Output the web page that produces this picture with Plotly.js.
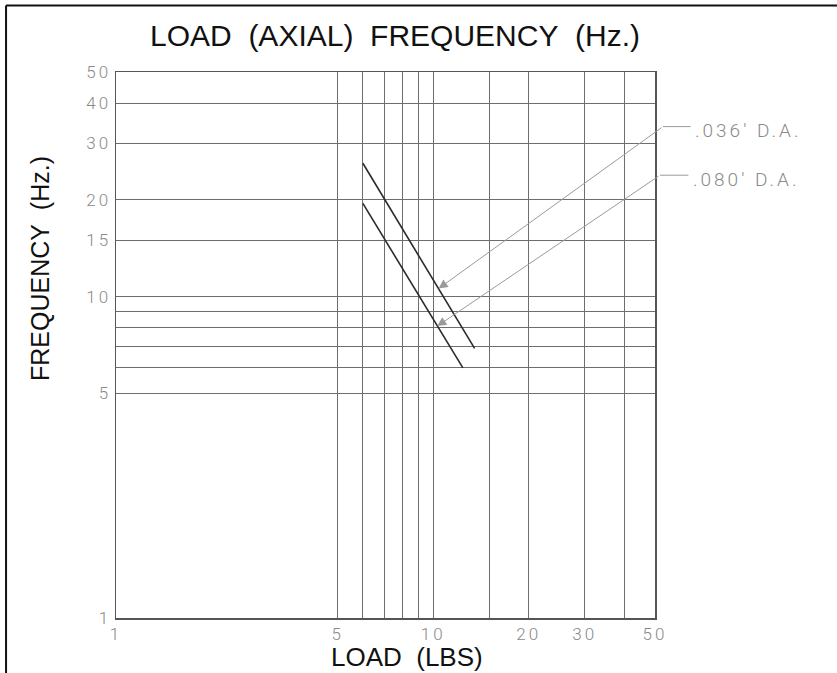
<!DOCTYPE html>
<html>
<head>
<meta charset="utf-8">
<script src="https://cdn.plot.ly/plotly-3.0.1.min.js"></script>
<style>
html,body{margin:0;padding:0;background:#fff;}
#chart{width:837px;height:673px;}
#chart .xtick text, #chart .ytick text {letter-spacing: 3px;}
#chart g.annotation[data-index="2"] text, #chart g.annotation[data-index="3"] text {letter-spacing: 3px;}
</style>
</head>
<body>
<div id="chart"></div>
<script>
// ---- data ----
var seriesNames = [".036\u2032 D.A.", ".080\u2032 D.A."];
var load036 = [6, 13.5];
var freq036 = [26, 6.9];
var load080 = [6, 12.4];
var freq080 = [19.5, 6];
// points where leader arrows touch each curve
var pointer036 = [10.4, 10.6];
var pointer080 = [10.3, 8.1];

var xTickVals = [1, 5, 6, 7, 8, 9, 10, 15, 20, 30, 40, 50];
var xTickText = ["1", "5", "", "", "", "", "10", "", "20", "30", "", "50"];
var yTickVals = [1, 5, 6, 7, 8, 9, 10, 15, 20, 30, 40, 50];
var yTickText = ["1", "5", "", "", "", "", "10", "15", "20", "30", "40", "50"];
var xRange = [1, 50];
var yRange = [1, 50];

var L = Math.log10;
var thinFont = "Roboto, 'DejaVu Sans', sans-serif";
var tickFont = {family: thinFont, size: 17, color: "#8a8a8a", weight: 300};
var boldFamily = "'Liberation Sans', Arial, sans-serif";

var traces = [
  {x: load036, y: freq036, name: seriesNames[0], mode: "lines", line: {color: "#2b2b2b", width: 1.6}, hoverinfo: "x+y+name"},
  {x: load080, y: freq080, name: seriesNames[1], mode: "lines", line: {color: "#2b2b2b", width: 1.6}, hoverinfo: "x+y+name"}
];

var xSpan = L(xRange[1]) - L(xRange[0]);
var ySpan = L(yRange[1]) - L(yRange[0]);
function pxToLogX(p) { return L(xRange[0]) + p * xSpan; }
function pyToLogY(p) { return L(yRange[0]) + p * ySpan; }

var leaderColor = "#9a9a9a";
var annotations = [
  // leader arrows (tail beyond the plot on the right)
  {x: L(pointer036[0]), y: L(pointer036[1]), xref: "x", yref: "y", axref: "x", ayref: "y",
   ax: pxToLogX(1.0148), ay: pyToLogY(0.900), text: "", showarrow: true,
   arrowhead: 2, arrowsize: 1.8, arrowwidth: 1, arrowcolor: leaderColor},
  {x: L(pointer080[0]), y: L(pointer080[1]), xref: "x", yref: "y", axref: "x", ayref: "y",
   ax: pxToLogX(1.0093), ay: pyToLogY(0.811), text: "", showarrow: true,
   arrowhead: 2, arrowsize: 1.8, arrowwidth: 1, arrowcolor: leaderColor},
  // labels
  {x: 1.098, y: 0.893, xref: "paper", yref: "paper", xanchor: "left", yanchor: "middle",
   text: seriesNames[0], showarrow: false, font: {family: thinFont, size: 19, color: "#8a8a8a", weight: 300}},
  {x: 1.094, y: 0.804, xref: "paper", yref: "paper", xanchor: "left", yanchor: "middle",
   text: seriesNames[1], showarrow: false, font: {family: thinFont, size: 19, color: "#8a8a8a", weight: 300}},
  // y-axis title
  {x: -0.142, y: 0.64, xref: "paper", yref: "paper", xanchor: "center", yanchor: "middle",
   text: "FREQUENCY\u00a0 (Hz.)", textangle: -90, showarrow: false,
   font: {family: boldFamily, size: 25, color: "#111"}},
  // x-axis title
  {x: 0.539, y: -0.071, xref: "paper", yref: "paper", xanchor: "center", yanchor: "middle",
   text: "LOAD\u00a0 (LBS)", showarrow: false,
   font: {family: boldFamily, size: 26, color: "#111"}}
];

var shapes = [
  // horizontal leader segments
  {type: "line", xref: "paper", yref: "paper", x0: 1.0148, x1: 1.066, y0: 0.900, y1: 0.900, line: {color: leaderColor, width: 1}},
  {type: "line", xref: "paper", yref: "paper", x0: 1.0093, x1: 1.062, y0: 0.811, y1: 0.811, line: {color: leaderColor, width: 1}},
  // drawing frame (left and top)
  {type: "line", xref: "paper", yref: "paper", x0: -0.204, x1: -0.204, y0: 1.122, y1: -0.12, line: {color: "#111", width: 2}},
  {type: "line", xref: "paper", yref: "paper", x0: -0.204, x1: 1.36, y0: 1.122, y1: 1.122, line: {color: "#111", width: 2}}
];

var layout = {
  width: 837, height: 673,
  margin: {l: 116, r: 182, t: 72, b: 55, pad: 0},
  paper_bgcolor: "#fff", plot_bgcolor: "#fff",
  showlegend: false,
  title: {text: "LOAD\u00a0 (AXIAL)\u00a0 FREQUENCY\u00a0 (Hz.)", font: {family: boldFamily, size: 30, color: "#111"},
          x: 0.472, xanchor: "center", y: 0.947, yanchor: "middle"},
  xaxis: {
    type: "log", range: [L(xRange[0]), L(xRange[1])],
    tickmode: "array", tickvals: xTickVals, ticktext: xTickText,
    showgrid: true, gridcolor: "#6e6e6e", gridwidth: 1,
    showline: true, mirror: true, linecolor: "#555", linewidth: 1.5,
    ticks: "", ticklen: 0, tickfont: tickFont, zeroline: false
  },
  yaxis: {
    type: "log", range: [L(yRange[0]), L(yRange[1])],
    tickmode: "array", tickvals: yTickVals, ticktext: yTickText,
    showgrid: true, gridcolor: "#6e6e6e", gridwidth: 1,
    showline: true, mirror: true, linecolor: "#555", linewidth: 1.5,
    ticks: "", ticklen: 0, tickfont: tickFont, zeroline: false
  },
  annotations: annotations,
  shapes: shapes
};

Plotly.newPlot("chart", traces, layout, {displayModeBar: false, staticPlot: true});
</script>
</body>
</html>
